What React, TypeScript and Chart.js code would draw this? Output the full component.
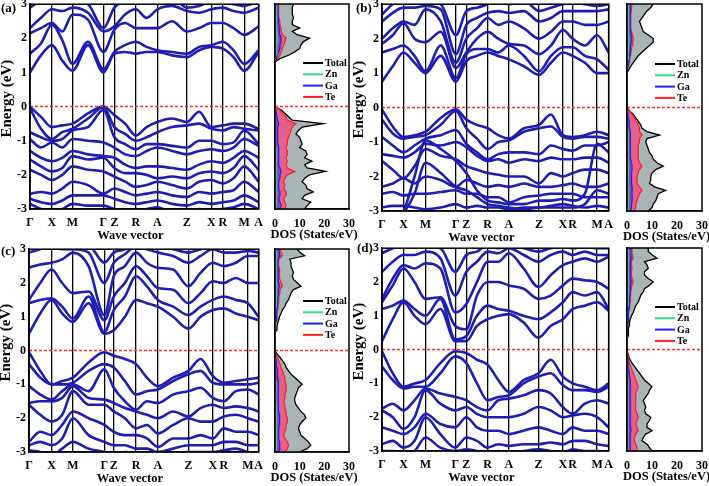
import React, { useEffect, useRef } from 'react';
import { Chart, registerables } from 'chart.js';

Chart.register(...registerables);

const SERIF = '"Liberation Serif", "Times New Roman", serif';
const BAND_COLOR = '#1e1eb2';
const FERMI_COLOR = '#ff2a2a';

// high-symmetry points along the k-path
const kLabels = ['Γ', 'X', 'M', 'Γ', 'Z', 'R', 'A', 'Z', 'X', 'R', 'M', 'A'];
const kTicksA = [0, 0.096, 0.186, 0.321, 0.369, 0.463, 0.557, 0.686, 0.793, 0.843, 0.937, 1];
const kTicksB = [0, 0.095, 0.192, 0.326, 0.372, 0.466, 0.56, 0.693, 0.798, 0.841, 0.949, 1];
const kTicksC = [0, 0.098, 0.191, 0.328, 0.369, 0.466, 0.561, 0.694, 0.8, 0.848, 0.953, 1];
const kTicksD = [0, 0.095, 0.192, 0.323, 0.372, 0.466, 0.56, 0.69, 0.798, 0.841, 0.949, 1];
// segments that also get a sample half way (Γ-X, X-M, M-Γ, Z-R, R-A, A-Z, Z-X, R-M)
const midSegments = [0, 1, 2, 4, 5, 6, 7, 9];

// band energies (eV) at: Γ m X m M m Γ Z m R m A m Z m X R m M A
const bandsA = [
  [1.0, 1.5, 1.8, 1.35, 1.05, 1.8, 1.0, 1.55, 1.6, 1.55, 1.6, 1.6, 1.5, 1.45, 1.65, 1.75, 1.7, 1.45, 1.05, 1.6],
  [1.55, 1.85, 2.4, 1.95, 1.25, 1.9, 1.1, 1.6, 1.8, 1.9, 1.75, 1.65, 1.6, 1.55, 1.75, 1.8, 1.9, 1.65, 1.25, 1.65],
  [2.15, 2.3, 2.45, 2.2, 2.7, 2.55, 1.6, 2.25, 2.45, 2.3, 2.3, 2.3, 2.5, 2.2, 2.3, 2.45, 2.45, 2.3, 2.1, 2.35],
  [2.3, 2.6, 2.85, 2.8, 2.9, 2.75, 2.2, 2.35, 2.7, 2.85, 2.6, 2.85, 2.95, 2.8, 2.75, 2.85, 2.9, 2.8, 2.75, 2.9],
  [2.9, 3.1, 3.2, 3.1, 3.1, 3.0, 2.3, 2.9, 3.1, 3.2, 3.1, 3.2, 3.2, 2.9, 2.95, 3.1, 3.1, 3.0, 2.95, 3.1],
  [0, -0.3, -0.6, -0.55, -0.5, -0.2, 0, -0.25, -0.5, -0.85, -0.6, -0.45, -0.35, -0.45, -0.15, -0.6, -0.55, -0.5, -0.5, -0.65],
  [-0.05, -0.65, -0.95, -0.75, -0.65, -0.35, -0.02, -0.6, -0.8, -1.0, -0.9, -0.75, -0.6, -0.55, -0.5, -0.65, -0.7, -0.6, -0.65, -0.7],
  [-0.75, -0.9, -1.0, -0.95, -0.7, -0.6, -0.1, -0.9, -1.1, -1.25, -1.1, -1.1, -1.15, -1.2, -1.0, -1.0, -1.1, -1.05, -0.7, -1.1],
  [-0.95, -1.2, -1.05, -1.2, -0.95, -1.0, -1.05, -1.2, -1.4, -1.45, -1.3, -1.2, -1.3, -1.4, -1.3, -1.25, -1.3, -1.2, -0.95, -1.15],
  [-1.3, -1.5, -1.6, -1.5, -1.3, -1.4, -1.45, -1.5, -1.7, -1.8, -1.75, -1.75, -1.8, -1.85, -1.7, -1.6, -1.65, -1.5, -1.3, -1.5],
  [-1.55, -1.75, -1.9, -1.8, -1.45, -1.55, -1.5, -1.8, -1.95, -1.95, -2.0, -2.1, -2.05, -2.1, -1.95, -1.9, -1.95, -1.8, -1.45, -1.85],
  [-1.85, -2.0, -2.15, -2.0, -1.75, -1.85, -1.9, -2.05, -2.2, -2.35, -2.3, -2.2, -2.3, -2.4, -2.2, -2.15, -2.25, -2.1, -1.75, -2.2],
  [-2.55, -2.5, -2.55, -2.4, -2.2, -2.3, -2.55, -2.4, -2.5, -2.6, -2.55, -2.5, -2.6, -2.65, -2.5, -2.55, -2.5, -2.45, -2.2, -2.5],
  [-2.7, -2.8, -2.85, -2.75, -2.6, -2.6, -2.6, -2.7, -2.8, -2.85, -2.8, -2.75, -2.85, -2.9, -2.8, -2.85, -2.8, -2.75, -2.6, -2.8],
  [-2.85, -3.0, -3.1, -3.0, -2.85, -2.9, -2.9, -3.0, -3.1, -3.1, -3.0, -2.95, -3.1, -3.1, -3.0, -3.05, -3.0, -2.95, -2.85, -3.0],
];

const bandsB = [
  [0.75, 1.2, 1.6, 1.3, 1.0, 1.5, 0.75, 1.35, 1.5, 1.6, 1.5, 1.4, 1.2, 0.95, 1.3, 1.6, 1.5, 1.3, 1.0, 1.0],
  [1.6, 1.7, 1.8, 1.5, 1.05, 1.8, 0.85, 1.55, 1.7, 1.7, 1.6, 1.8, 1.5, 1.05, 1.5, 1.75, 1.75, 1.5, 1.4, 1.1],
  [1.85, 2.1, 2.45, 2.0, 1.9, 2.2, 1.15, 1.6, 2.0, 2.2, 2.0, 1.85, 1.8, 1.55, 1.8, 2.25, 2.0, 1.8, 2.1, 1.6],
  [2.0, 2.3, 2.5, 2.4, 2.85, 2.5, 1.3, 2.0, 2.3, 2.6, 2.4, 2.5, 2.3, 2.0, 2.2, 2.5, 2.5, 2.4, 2.4, 2.5],
  [2.5, 2.75, 2.9, 2.9, 2.95, 2.85, 1.55, 2.4, 2.6, 2.75, 2.8, 2.75, 2.8, 2.5, 2.6, 2.8, 2.8, 2.8, 2.8, 2.85],
  [2.7, 3.0, 3.1, 3.1, 3.1, 3.0, 2.1, 2.8, 2.9, 3.0, 3.1, 3.0, 3.1, 2.8, 2.9, 3.0, 3.05, 3.0, 2.95, 3.0],
  [-0.05, -0.55, -0.85, -0.8, -0.7, -0.3, -0.05, -0.35, -0.5, -0.6, -0.8, -0.9, -0.6, -0.5, -0.2, -0.8, -0.85, -0.8, -0.7, -0.8],
  [-0.35, -0.75, -0.9, -0.85, -0.8, -0.5, -0.1, -0.6, -0.9, -1.2, -1.0, -0.95, -0.7, -0.6, -0.55, -0.85, -0.9, -0.85, -0.85, -0.9],
  [-0.85, -1.1, -1.3, -1.1, -0.9, -0.8, -0.65, -1.05, -1.3, -1.5, -1.35, -1.3, -1.3, -1.35, -1.1, -1.2, -1.25, -1.1, -1.1, -1.0],
  [-1.35, -1.4, -1.45, -1.3, -1.05, -1.1, -1.0, -1.15, -1.4, -1.55, -1.5, -1.6, -1.5, -1.55, -1.45, -1.5, -1.5, -1.45, -1.45, -1.6],
  [-1.55, -1.8, -2.05, -1.7, -1.2, -1.4, -1.5, -1.7, -1.8, -1.9, -1.95, -2.0, -2.0, -2.2, -1.9, -2.0, -1.9, -1.8, -1.8, -1.9],
  [-2.3, -2.2, -2.05, -2.2, -2.0, -2.1, -2.3, -2.1, -2.2, -2.3, -2.25, -2.3, -2.2, -2.3, -2.3, -2.25, -2.2, -2.3, -2.3, -2.2],
  [-2.5, -2.45, -2.55, -2.5, -2.5, -2.45, -2.4, -2.5, -2.5, -2.6, -2.6, -2.75, -2.6, -2.55, -2.5, -2.5, -2.5, -2.6, -2.6, -2.6],
  [-3.3, -3.2, -3.0, -2.0, -0.95, -1.2, -1.55, -1.9, -2.4, -2.7, -2.75, -2.8, -2.8, -2.7, -2.7, -2.65, -2.7, -2.5, -1.05, -1.3],
  [-3.3, -3.3, -3.05, -2.5, -1.6, -1.9, -2.3, -2.4, -2.6, -2.8, -2.85, -2.9, -2.95, -2.9, -2.9, -2.9, -2.9, -2.8, -2.4, -2.5],
  [-2.9, -2.85, -2.85, -2.9, -2.95, -2.9, -2.8, -2.9, -2.85, -2.9, -2.9, -2.95, -2.9, -2.9, -2.85, -2.8, -2.85, -2.9, -2.85, -2.9],
];

const bandsC = [
  [0.5, 1.1, 1.5, 1.1, 0.85, 1.4, 0.5, 0.6, 1.0, 1.5, 1.4, 1.3, 1.0, 0.65, 1.0, 1.2, 1.25, 1.1, 1.0, 0.9],
  [1.4, 1.5, 1.55, 1.3, 0.95, 1.6, 0.55, 1.2, 1.6, 2.2, 1.9, 1.5, 1.3, 1.05, 1.3, 1.5, 1.6, 1.5, 1.4, 1.0],
  [1.5, 2.0, 2.4, 2.0, 1.7, 1.75, 0.9, 1.6, 2.0, 2.5, 2.2, 1.85, 1.8, 1.4, 1.7, 2.05, 2.0, 2.15, 2.0, 2.0],
  [2.45, 2.55, 2.6, 2.7, 2.9, 2.5, 1.05, 2.2, 2.5, 2.9, 2.6, 2.45, 2.4, 1.9, 2.3, 2.6, 2.5, 2.6, 2.8, 2.8],
  [2.9, 3.0, 3.1, 3.0, 3.0, 2.9, 2.0, 2.6, 2.85, 3.1, 3.0, 2.9, 2.8, 2.6, 2.8, 3.0, 2.9, 2.9, 2.95, 2.9],
  [3.1, 3.1, 3.2, 3.1, 3.1, 3.1, 2.6, 2.9, 3.0, 3.2, 3.1, 3.1, 3.0, 2.9, 3.0, 3.1, 3.1, 3.05, 3.1, 3.05],
  [-0.05, -0.6, -1.0, -0.9, -0.8, -0.35, -0.05, -0.15, -0.25, -0.4, -0.8, -1.05, -0.8, -0.6, -0.25, -0.75, -0.95, -0.9, -0.85, -0.8],
  [-0.4, -0.8, -1.0, -1.0, -0.95, -0.6, -0.4, -0.5, -0.9, -1.3, -1.2, -1.15, -0.9, -0.7, -0.6, -0.95, -1.0, -1.0, -1.0, -0.95],
  [-1.05, -1.3, -1.45, -1.2, -1.0, -1.2, -0.55, -1.1, -1.5, -1.75, -1.5, -1.55, -1.3, -1.2, -1.1, -1.4, -1.5, -1.2, -1.15, -1.3],
  [-1.55, -1.5, -1.5, -1.4, -1.05, -1.4, -1.45, -1.55, -1.7, -1.8, -1.9, -2.0, -1.8, -1.95, -1.7, -1.6, -1.7, -1.65, -1.7, -1.8],
  [-1.6, -1.9, -2.1, -1.9, -1.2, -1.6, -1.6, -1.8, -2.0, -2.3, -2.2, -2.45, -2.2, -2.0, -2.1, -2.1, -1.95, -1.9, -2.0, -2.1],
  [-2.7, -2.4, -2.5, -2.2, -1.8, -2.0, -2.2, -2.4, -2.5, -2.5, -2.6, -2.85, -2.6, -2.6, -2.5, -2.6, -2.3, -2.4, -2.4, -2.5],
  [-2.8, -2.7, -2.8, -2.6, -2.0, -2.5, -2.7, -2.8, -2.8, -2.9, -2.9, -3.0, -2.9, -2.8, -2.8, -2.8, -2.7, -2.7, -2.8, -2.8],
  [-2.95, -3.0, -3.1, -2.9, -2.7, -2.9, -3.0, -3.1, -3.0, -3.05, -3.1, -3.1, -3.05, -3.0, -3.0, -3.0, -2.95, -2.9, -3.0, -3.05],
];

const bandsD = [
  [0.25, 0.9, 1.4, 1.0, 0.75, 1.2, 0.25, 0.25, 0.7, 0.9, 1.0, 1.05, 0.8, 0.35, 0.7, 0.9, 1.2, 1.3, 1.4, 1.15],
  [1.2, 1.3, 1.45, 1.2, 1.0, 1.5, 0.3, 0.4, 1.0, 1.3, 1.2, 1.15, 1.0, 0.9, 1.1, 1.4, 1.7, 1.6, 1.7, 1.2],
  [1.4, 1.9, 2.4, 2.0, 1.5, 1.55, 0.7, 0.6, 1.6, 2.0, 2.0, 1.9, 1.8, 1.5, 1.6, 1.9, 2.1, 2.05, 2.0, 1.8],
  [1.5, 2.1, 2.5, 2.4, 2.55, 2.4, 1.1, 1.35, 2.0, 2.6, 2.6, 2.85, 2.4, 1.85, 2.2, 2.5, 2.6, 2.7, 2.6, 2.75],
  [2.3, 2.6, 2.8, 2.8, 2.9, 2.7, 1.6, 2.3, 2.6, 2.9, 2.85, 3.0, 2.8, 2.6, 2.8, 2.9, 2.8, 2.9, 2.8, 2.8],
  [2.85, 3.0, 3.1, 3.1, 3.05, 3.0, 2.3, 2.8, 2.9, 3.1, 3.0, 3.1, 3.0, 2.9, 3.0, 3.05, 3.0, 3.05, 3.0, 3.0],
  [-0.05, -0.7, -1.1, -1.0, -0.9, -0.4, -0.05, -0.1, -0.3, -0.45, -0.9, -1.25, -0.9, -0.7, -0.3, -0.8, -1.0, -1.1, -1.2, -1.0],
  [-0.5, -0.9, -1.15, -1.1, -1.1, -0.7, -0.2, -0.4, -1.0, -1.5, -1.4, -1.35, -1.0, -0.8, -0.7, -1.05, -1.2, -1.2, -1.25, -1.1],
  [-1.75, -1.6, -1.8, -1.5, -1.15, -1.3, -1.4, -1.5, -1.7, -1.8, -1.5, -1.45, -1.35, -1.2, -1.3, -1.7, -1.9, -1.6, -1.5, -1.6],
  [-1.8, -2.0, -2.35, -2.0, -1.2, -1.6, -1.8, -1.7, -1.9, -2.0, -2.0, -2.0, -1.9, -1.7, -1.8, -2.0, -1.95, -1.9, -2.0, -2.3],
  [-2.3, -2.4, -2.5, -2.3, -1.9, -2.2, -2.3, -2.0, -2.3, -2.4, -2.4, -2.5, -2.4, -2.3, -2.4, -2.5, -2.3, -2.4, -2.4, -2.5],
  [-2.8, -2.7, -2.9, -2.7, -2.0, -2.5, -2.9, -2.6, -2.7, -2.9, -2.8, -2.85, -2.8, -2.8, -2.75, -2.8, -2.7, -2.7, -2.8, -2.85],
  [-3.0, -3.0, -3.1, -3.0, -2.6, -2.9, -3.0, -2.95, -3.0, -3.1, -3.0, -3.05, -3.0, -2.95, -3.0, -3.05, -2.95, -3.0, -3.0, -3.05],
];

// energy grid of the DOS curves (eV)
const dosEnergy = [
  -3, -2.9, -2.8, -2.7, -2.6, -2.5, -2.4, -2.3, -2.2, -2.1,
  -2, -1.9, -1.8, -1.7, -1.6, -1.5, -1.4, -1.3, -1.2, -1.1,
  -1, -0.9, -0.8, -0.7, -0.6, -0.5, -0.4, -0.3, -0.2, -0.1,
  0, 0.1, 0.2, 0.3, 0.4, 0.5, 0.6, 0.7, 0.8, 0.9,
  1, 1.1, 1.2, 1.3, 1.4, 1.5, 1.6, 1.7, 1.8, 1.9,
  2, 2.1, 2.2, 2.3, 2.4, 2.5, 2.6, 2.7, 2.8, 2.9,
  3,
];

// DOS (States/eV)
const totalA = [
  12, 13, 14.5, 11, 12, 15.5, 13, 12.5, 11, 12,
  14, 20.5, 13, 12, 15, 12, 13, 12.5, 10, 11,
  10.5, 10, 8.5, 9.5, 11, 19.5, 7, 5.5, 4, 2.5,
  0, 0, 0, 0, 0, 0, 0, 0, 0, 0,
  0, 0, 0, 0.3, 2, 5.5, 8, 10, 10.5, 11.5,
  14, 9, 7, 10, 7, 7, 7.5, 7, 7, 7,
  7.5,
];
const teA = [
  4, 4.5, 4, 3.5, 4.5, 4.5, 3.5, 4, 3.5, 4,
  5, 8, 5, 4.5, 5, 4.5, 5, 5, 4.5, 5,
  5, 5.5, 6, 6.5, 7, 8.5, 5, 4.5, 3, 2,
  0, 0, 0, 0, 0, 0, 0, 0, 0, 0,
  0, 0, 0, 0.2, 1, 2, 2.5, 3, 3.5, 4,
  4.5, 3, 2.5, 2.5, 2, 2, 1.5, 1.5, 1.5, 1.5,
  1.5,
];
const gaA = [
  2, 2.5, 2, 1.5, 2, 2, 1.5, 1.5, 1.5, 2,
  2, 2.5, 2, 1.5, 1.5, 1.5, 1.5, 1.5, 1.5, 1.2,
  1.2, 1, 1, 1, 1.2, 1.5, 1, 0.8, 0.6, 0.4,
  0, 0, 0, 0, 0, 0, 0, 0, 0, 0,
  0, 0, 0, 0.1, 0.5, 1, 1.5, 2, 2, 2.5,
  2.5, 2, 1.8, 1.8, 1.5, 1.5, 1.3, 1.2, 1.2, 1.2,
  1.2,
];
const znA = [
  0.6, 0.7, 0.6, 0.5, 0.6, 0.6, 0.5, 0.5, 0.5, 0.6,
  0.6, 0.7, 0.6, 0.5, 0.5, 0.5, 0.5, 0.5, 0.4, 0.4,
  0.4, 0.4, 0.3, 0.3, 0.3, 0.4, 0.3, 0.2, 0.2, 0.1,
  0, 0, 0, 0, 0, 0, 0, 0, 0, 0,
  0, 0, 0, 0.1, 0.3, 0.5, 0.6, 0.8, 0.8, 1,
  1, 0.9, 0.8, 0.8, 0.7, 0.7, 0.6, 0.6, 0.6, 0.6,
  0.6,
];

const totalB = [
  8.5, 10, 10.5, 11.5, 12, 12.5, 15.5, 11, 9, 9.5,
  9.5, 10, 11.5, 14.5, 12, 10.5, 10, 9, 8.5, 8,
  7.5, 8, 13, 8, 6, 5.5, 4.5, 3.5, 2.5, 1,
  0, 0, 0, 0, 0, 0, 0, 0, 0, 0,
  0.1, 0.8, 1.5, 2.5, 3.5, 4.5, 6, 7.5, 9, 10.5,
  10.5, 8.5, 6.5, 6, 5.5, 5, 6, 7, 8, 9.5,
  10.5,
];
const teB = [
  3, 3.5, 3.5, 4, 4.5, 5, 6, 5, 4, 4,
  4, 4.5, 5, 6, 5, 4.5, 4.5, 4.5, 4.5, 4.5,
  5, 5, 6, 5, 5, 4.5, 3.5, 3, 2, 1,
  0, 0, 0, 0, 0, 0, 0, 0, 0, 0,
  0, 0.3, 0.5, 0.8, 1, 1.2, 1.5, 1.8, 2, 2.3,
  2.5, 2.2, 1.8, 1.5, 1.5, 1.5, 1.5, 1.5, 1.8, 1.8,
  2,
];
const gaB = [
  1.5, 1.8, 1.8, 2, 2, 2, 2.2, 2, 1.8, 1.8,
  1.8, 1.8, 2, 2, 1.8, 1.5, 1.5, 1.5, 1.3, 1.3,
  1.2, 1.2, 1.5, 1.2, 1, 1, 0.8, 0.6, 0.4, 0.2,
  0, 0, 0, 0, 0, 0, 0, 0, 0, 0,
  0, 0.2, 0.4, 0.6, 0.8, 1, 1.2, 1.3, 1.5, 1.8,
  1.8, 1.6, 1.4, 1.2, 1.2, 1.2, 1.2, 1.3, 1.4, 1.5,
  1.5,
];
const znB = [
  0.5, 0.6, 0.6, 0.6, 0.7, 0.7, 0.8, 0.7, 0.6, 0.6,
  0.6, 0.6, 0.7, 0.7, 0.6, 0.5, 0.5, 0.5, 0.4, 0.4,
  0.4, 0.4, 0.5, 0.4, 0.3, 0.3, 0.3, 0.2, 0.2, 0.1,
  0, 0, 0, 0, 0, 0, 0, 0, 0, 0,
  0, 0.1, 0.2, 0.3, 0.4, 0.5, 0.6, 0.6, 0.7, 0.8,
  0.8, 0.7, 0.6, 0.6, 0.6, 0.6, 0.6, 0.6, 0.7, 0.7,
  0.7,
];

const totalC = [
  10, 13, 14.5, 13.5, 12, 10.5, 10, 9.5, 10, 11,
  12.5, 12, 10.5, 9.5, 8.5, 8, 8, 8.5, 9, 9.5,
  11, 9.5, 8, 6.5, 5.5, 4.5, 4, 3, 2, 0.8,
  0, 0, 0, 0, 0, 0.3, 0.5, 0.8, 1, 1.5,
  1.8, 2.5, 3, 4, 4.5, 5.5, 6, 6.5, 7.5, 10.5,
  9, 7.5, 7, 7.5, 7, 6.5, 6.5, 6, 12, 10,
  9,
];
const teC = [
  4, 5, 5.5, 5, 4, 3.5, 4, 4.5, 4.5, 5,
  5, 4.5, 4.5, 4, 4, 3.5, 4, 4, 4.5, 4.5,
  4.5, 4, 4, 3.5, 3, 2.5, 2, 1.5, 1, 0.3,
  0, 0, 0, 0, 0, 0.1, 0.2, 0.3, 0.4, 0.5,
  0.6, 0.8, 1, 1.2, 1.3, 1.5, 1.5, 1.8, 2, 3,
  2.5, 2, 1.8, 2, 1.8, 1.5, 1.5, 1.5, 3, 2.5,
  2,
];
const gaC = [
  1.5, 2, 2, 1.8, 1.5, 1.5, 1.5, 1.5, 1.8, 1.8,
  2, 1.8, 1.5, 1.5, 1.3, 1.3, 1.3, 1.3, 1.5, 1.5,
  1.5, 1.3, 1.2, 1, 1, 0.8, 0.6, 0.5, 0.3, 0.1,
  0, 0, 0, 0, 0, 0.1, 0.2, 0.3, 0.4, 0.5,
  0.6, 0.7, 0.8, 1, 1, 1.2, 1.3, 1.4, 1.5, 1.8,
  1.6, 1.4, 1.3, 1.4, 1.3, 1.2, 1.2, 1.2, 2, 1.8,
  1.5,
];
const znC = [
  0.5, 0.7, 0.8, 0.7, 0.6, 0.5, 0.5, 0.5, 0.6, 0.6,
  0.7, 0.6, 0.5, 0.5, 0.5, 0.4, 0.4, 0.4, 0.5, 0.5,
  0.5, 0.4, 0.4, 0.3, 0.3, 0.3, 0.2, 0.2, 0.1, 0.1,
  0, 0, 0, 0, 0, 0.1, 0.1, 0.2, 0.2, 0.3,
  0.3, 0.4, 0.4, 0.5, 0.5, 0.6, 0.6, 0.6, 0.7, 0.8,
  0.7, 0.6, 0.6, 0.6, 0.6, 0.5, 0.5, 0.5, 0.8, 0.7,
  0.6,
];

const totalD = [
  10, 9, 8, 6, 6.5, 7.5, 10, 8, 8, 9,
  9.5, 7.5, 7, 7.5, 7, 6.5, 7.5, 8.5, 9, 10,
  8.5, 7, 6, 5, 4, 3, 2, 1.2, 0.7, 0.3,
  0, 0, 0.1, 0.3, 0.4, 0.5, 0.6, 0.8, 1, 1.3,
  1.8, 2.5, 3, 3.5, 4.5, 5, 5.5, 6.5, 7, 9,
  10.5, 8.5, 7, 7, 8.5, 8, 7, 12, 10, 8.5,
  8.5,
];
const teD = [
  4, 4, 3.5, 3, 3, 3.5, 4.5, 4, 3.5, 4,
  4.5, 4, 3.5, 3.5, 3.5, 3.5, 3.5, 3.5, 4, 4.5,
  4, 3.5, 3, 2.5, 2, 1.5, 1, 0.8, 0.5, 0.2,
  0, 0, 0.1, 0.1, 0.2, 0.2, 0.3, 0.3, 0.4, 0.4,
  0.5, 0.7, 0.8, 1, 1.2, 1.3, 1.4, 1.5, 1.8, 2,
  2.5, 2, 1.8, 1.8, 2, 1.8, 1.7, 2.5, 2.2, 2,
  2,
];
const gaD = [
  1.5, 1.5, 1.3, 1.2, 1.2, 1.3, 1.6, 1.5, 1.3, 1.4,
  1.5, 1.4, 1.3, 1.3, 1.3, 1.2, 1.3, 1.3, 1.4, 1.5,
  1.4, 1.2, 1, 0.9, 0.7, 0.5, 0.4, 0.3, 0.2, 0.1,
  0, 0, 0.1, 0.1, 0.2, 0.2, 0.3, 0.3, 0.4, 0.5,
  0.6, 0.7, 0.8, 0.9, 1, 1.1, 1.2, 1.3, 1.4, 1.5,
  1.7, 1.5, 1.3, 1.3, 1.5, 1.4, 1.3, 1.8, 1.6, 1.5,
  1.5,
];
const znD = [
  0.5, 0.5, 0.4, 0.4, 0.4, 0.4, 0.5, 0.5, 0.4, 0.4,
  0.5, 0.4, 0.4, 0.4, 0.4, 0.4, 0.4, 0.4, 0.4, 0.5,
  0.4, 0.4, 0.3, 0.3, 0.2, 0.2, 0.1, 0.1, 0.1, 0.05,
  0, 0, 0.05, 0.05, 0.1, 0.1, 0.1, 0.2, 0.2, 0.2,
  0.3, 0.3, 0.3, 0.4, 0.4, 0.4, 0.5, 0.5, 0.5, 0.6,
  0.6, 0.6, 0.5, 0.5, 0.6, 0.5, 0.5, 0.7, 0.6, 0.6,
  0.6,
];

// where each panel's plot boxes sit on the page (px)
type Frame = { bandL: number; bandR: number; top: number; bottom: number; dosL: number; dosR: number; legendY: number; tagX: number; tagY: number };
const frameA: Frame = { bandL: 30, bandR: 263, top: 4, bottom: 209, dosL: 275, dosR: 349, legendY: 59, tagX: 1, tagY: 1 };
const frameB: Frame = { bandL: 382, bandR: 613, top: 4, bottom: 211, dosL: 627, dosR: 702, legendY: 60, tagX: 356, tagY: 1 };
const frameC: Frame = { bandL: 29, bandR: 263, top: 249, bottom: 452, dosL: 275, dosR: 349, legendY: 52, tagX: 1, tagY: 244 };
const frameD: Frame = { bandL: 382, bandR: 613, top: 248, bottom: 451, dosL: 627, dosR: 702, legendY: 59, tagX: 357, tagY: 241 };

const PAD_TOP = 10;
const PAD_RIGHT = 7;
const Y_AXIS_W = 30;
const X_AXIS_H = 36;
const DOS_Y_W = 8;
const DOS_PAD_RIGHT = 10;
const DOS_EXTRA = 12; // spare room either side so the DOS title is not cut off

const tickFont = { family: SERIF, size: 12, weight: 'bold' as const };

function pathSamples(ticks: number[]) {
  const out: number[] = [];
  ticks.forEach((t, i) => {
    out.push(t);
    if (midSegments.includes(i)) out.push((t + ticks[i + 1]) / 2);
  });
  return out;
}

const framePlugin = {
  id: 'frame',
  afterDatasetsDraw(chart: any) {
    const { ctx, chartArea: a } = chart;
    ctx.save();
    ctx.strokeStyle = '#000';
    ctx.lineWidth = 1.5;
    ctx.strokeRect(a.left, a.top, a.right - a.left, a.bottom - a.top);
    ctx.restore();
  },
};

// axis titles of the band plot sit a little off-centre in the original
const bandTitlePlugin = {
  id: 'bandTitles',
  afterDraw(chart: any) {
    const { ctx, chartArea: a } = chart;
    ctx.save();
    ctx.fillStyle = '#000';
    ctx.textAlign = 'center';
    ctx.textBaseline = 'middle';
    ctx.font = `bold 12.5px ${SERIF}`;
    ctx.fillText('Wave vector', (a.left + a.right) / 2 - 14, a.bottom + 27);
    ctx.translate(7, (a.top + a.bottom) / 2 - 8);
    ctx.rotate(-Math.PI / 2);
    ctx.font = `bold 15px ${SERIF}`;
    ctx.fillText('Energy (eV)', 0, 0);
    ctx.restore();
  },
};

// the DOS title is wider than its axis, so draw it without Chart.js' width squeeze
const dosTitlePlugin = {
  id: 'dosTitle',
  afterDraw(chart: any) {
    const { ctx, chartArea: a } = chart;
    ctx.save();
    ctx.fillStyle = '#000';
    ctx.textAlign = 'center';
    ctx.textBaseline = 'middle';
    ctx.font = `bold 12.5px ${SERIF}`;
    ctx.fillText('DOS (States/eV)', (a.left + a.right) / 2 + 2, a.bottom + 26);
    ctx.restore();
  },
};

function BandChart({ frame, ticks, bands }: { frame: Frame; ticks: number[]; bands: number[][] }) {
  const ref = useRef<HTMLCanvasElement>(null);
  const w = Y_AXIS_W + frame.bandR - frame.bandL + PAD_RIGHT;
  const h = PAD_TOP + frame.bottom - frame.top + X_AXIS_H;

  useEffect(() => {
    if (!ref.current) return;
    const xs = pathSamples(ticks);
    const datasets: any[] = bands.map((band) => ({
      data: band.map((e, i) => ({ x: xs[i], y: e })),
      borderColor: BAND_COLOR,
      borderWidth: 2.6,
      pointRadius: 0,
      cubicInterpolationMode: 'monotone',
      fill: false,
      order: 1,
    }));
    datasets.push({
      data: [{ x: 0, y: 0 }, { x: 1, y: 0 }],
      borderColor: FERMI_COLOR,
      borderWidth: 1.5,
      borderDash: [3, 2],
      pointRadius: 0,
      order: 0,
    });

    const chart = new Chart(ref.current, {
      type: 'line',
      data: { datasets },
      options: {
        animation: false,
        responsive: false,
        layout: { padding: { top: PAD_TOP, right: PAD_RIGHT, left: 0, bottom: 0 } },
        plugins: { legend: { display: false }, tooltip: { enabled: false } },
        scales: {
          x: {
            type: 'linear',
            min: 0,
            max: 1,
            afterBuildTicks: (s: any) => {
              s.ticks = ticks.map((v) => ({ value: v }));
            },
            afterFit: (s: any) => {
              s.height = X_AXIS_H;
            },
            ticks: {
              autoSkip: false,
              maxRotation: 0,
              padding: 7,
              color: '#000',
              font: tickFont,
              callback: (_v: any, i: number) => kLabels[i],
            },
            grid: { color: '#000', lineWidth: 1.3, drawTicks: false },
            border: { color: '#000', width: 1.5 },
          },
          y: {
            type: 'linear',
            min: -3,
            max: 3,
            afterFit: (s: any) => {
              s.width = Y_AXIS_W;
            },
            ticks: { stepSize: 1, padding: 3, color: '#000', font: tickFont },
            grid: { display: false, drawTicks: false },
            border: { color: '#000', width: 1.5 },
          },
        },
      } as any,
      plugins: [framePlugin, bandTitlePlugin],
    });
    return () => chart.destroy();
  }, [frame, ticks, bands]);

  return (
    <canvas
      ref={ref}
      width={w}
      height={h}
      style={{ position: 'absolute', left: frame.bandL - Y_AXIS_W, top: frame.top - PAD_TOP, width: w, height: h }}
    />
  );
}

function DosChart({ frame, total, zn, ga, te }: { frame: Frame; total: number[]; zn: number[]; ga: number[]; te: number[] }) {
  const ref = useRef<HTMLCanvasElement>(null);
  const w = DOS_EXTRA + DOS_Y_W + frame.dosR - frame.dosL + DOS_PAD_RIGHT + DOS_EXTRA;
  const h = PAD_TOP + frame.bottom - frame.top + X_AXIS_H;

  useEffect(() => {
    if (!ref.current) return;
    const curve = (vals: number[]) => vals.map((v, i) => ({ x: v, y: dosEnergy[i] }));
    const legendPlugin = {
      id: 'dosLegend',
      afterDraw(chart: any) {
        const { ctx, chartArea } = chart;
        const x0 = chartArea.left + 28;
        chart.data.datasets.slice(0, 4).forEach((ds: any, i: number) => {
          const y = chartArea.top + frame.legendY + i * 11.3;
          ctx.save();
          ctx.strokeStyle = ds.borderColor;
          ctx.lineWidth = 2;
          ctx.beginPath();
          ctx.moveTo(x0, y);
          ctx.lineTo(x0 + 20, y);
          ctx.stroke();
          ctx.fillStyle = '#000';
          ctx.font = `bold 10px ${SERIF}`;
          ctx.textBaseline = 'middle';
          ctx.fillText(ds.label, x0 + 22, y + 0.5);
          ctx.restore();
        });
      },
    };

    const chart = new Chart(ref.current, {
      type: 'line',
      data: {
        datasets: [
          {
            label: 'Total',
            data: curve(total),
            borderColor: '#000',
            backgroundColor: '#a9b5b5',
            borderWidth: 1.3,
            fill: 'origin',
            order: 4,
          },
          {
            label: 'Zn',
            data: curve(zn),
            borderColor: '#3ad68a',
            backgroundColor: 'rgba(90,220,160,0.5)',
            borderWidth: 1,
            fill: 'origin',
            order: 1,
          },
          {
            label: 'Ga',
            data: curve(ga),
            borderColor: '#1f1fff',
            backgroundColor: 'rgba(70,60,200,0.55)',
            borderWidth: 1.2,
            fill: 'origin',
            order: 2,
          },
          {
            label: 'Te',
            data: curve(te),
            borderColor: '#ff1f1f',
            backgroundColor: 'rgba(240,80,130,0.85)',
            borderWidth: 1.2,
            fill: 'origin',
            order: 3,
          },
          {
            label: 'EF',
            data: [{ x: 0, y: 0 }, { x: 30, y: 0 }],
            borderColor: FERMI_COLOR,
            borderWidth: 1.5,
            borderDash: [3, 2],
            fill: false,
            order: 0,
          },
        ],
      },
      options: {
        animation: false,
        responsive: false,
        indexAxis: 'y',
        elements: { point: { radius: 0 }, line: { tension: 0 } },
        layout: { padding: { top: PAD_TOP, right: DOS_PAD_RIGHT + DOS_EXTRA, left: DOS_EXTRA, bottom: 0 } },
        plugins: { legend: { display: false }, tooltip: { enabled: false } },
        scales: {
          x: {
            type: 'linear',
            position: 'bottom',
            min: 0,
            max: 30,
            afterFit: (s: any) => {
              s.height = X_AXIS_H;
            },
            ticks: { stepSize: 10, padding: 8, color: '#000', font: tickFont, maxRotation: 0 },
            grid: { display: false, drawTicks: false },
            border: { color: '#000', width: 1.5 },
          },
          y: {
            type: 'linear',
            position: 'left',
            min: -3,
            max: 3,
            afterFit: (s: any) => {
              s.width = DOS_Y_W;
            },
            ticks: { display: false },
            grid: { display: false, drawTicks: false },
            border: { color: '#000', width: 1.5 },
          },
        },
      } as any,
      plugins: [framePlugin, legendPlugin, dosTitlePlugin],
    });
    return () => chart.destroy();
  }, [frame, total, zn, ga, te]);

  return (
    <canvas
      ref={ref}
      width={w}
      height={h}
      style={{ position: 'absolute', left: frame.dosL - DOS_Y_W - DOS_EXTRA, top: frame.top - PAD_TOP, width: w, height: h }}
    />
  );
}

const panels = [
  { tag: '(a)', frame: frameA, ticks: kTicksA, bands: bandsA, total: totalA, zn: znA, ga: gaA, te: teA },
  { tag: '(b)', frame: frameB, ticks: kTicksB, bands: bandsB, total: totalB, zn: znB, ga: gaB, te: teB },
  { tag: '(c)', frame: frameC, ticks: kTicksC, bands: bandsC, total: totalC, zn: znC, ga: gaC, te: teC },
  { tag: '(d)', frame: frameD, ticks: kTicksD, bands: bandsD, total: totalD, zn: znD, ga: gaD, te: teD },
];

export default function App() {
  return (
    <div style={{ position: 'absolute', left: 0, top: 0, width: 709, height: 486, background: '#fff', overflow: 'hidden' }}>
      {panels.map((p) => (
        <React.Fragment key={p.tag}>
          <BandChart frame={p.frame} ticks={p.ticks} bands={p.bands} />
          <DosChart frame={p.frame} total={p.total} zn={p.zn} ga={p.ga} te={p.te} />
          <div
            style={{
              position: 'absolute',
              left: p.frame.tagX,
              top: p.frame.tagY,
              font: `bold 13px ${SERIF}`,
              color: '#000',
              lineHeight: '13px',
            }}
          >
            {p.tag}
          </div>
        </React.Fragment>
      ))}
    </div>
  );
}
